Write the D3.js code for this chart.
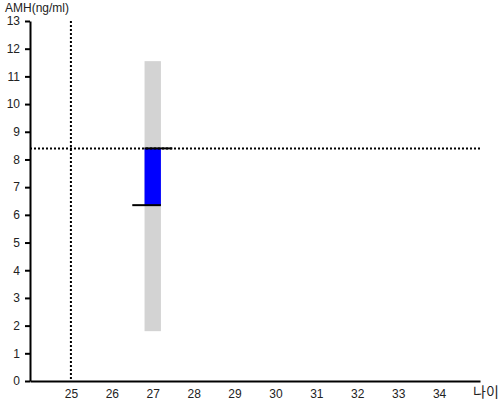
<!DOCTYPE html>
<html>
<head>
<meta charset="utf-8">
<script src="https://cdn.jsdelivr.net/npm/d3@7"></script>
<style>
  body { margin: 0; background: white; }
  text { font-family: Arial, "Liberation Sans", sans-serif; }
</style>
</head>
<body>
<div id="chart"></div>
<script>
// data
var xTicks = [25, 26, 27, 28, 29, 30, 31, 32, 33, 34];
var yTicks = [0, 1, 2, 3, 4, 5, 6, 7, 8, 9, 10, 11, 12, 13];
var ages = [27];
var rangeLow = [1.8];
var rangeHigh = [11.55];
var expectedAmh = [6.35];
var measuredAmh = [8.4];
var refAge = 25;
var refAmh = 8.4;

var width = 500, height = 400;
var plotLeft = 30, plotRight = 480, plotTop = 21, plotBottom = 381;

var svg = d3.select('#chart').append('svg')
  .attr('width', width)
  .attr('height', height);

var x = d3.scaleLinear().domain([24, 35]).range([plotLeft, plotRight]);
var y = d3.scaleLinear().domain([0, 13]).range([plotBottom, plotTop]);

// grey range bar
svg.selectAll('rect.range')
  .data(ages)
  .enter()
  .append('rect')
    .attr('class', 'range')
    .attr('x', function(d) { return x(d - 0.2); })
    .attr('width', function(d) { return x(d + 0.2) - x(d - 0.2); })
    .attr('y', function(d, i) { return y(rangeHigh[i]); })
    .attr('height', function(d, i) { return y(rangeLow[i]) - y(rangeHigh[i]); })
    .style('fill', '#d3d3d3');

// blue bar between expected and measured
svg.selectAll('rect.diff')
  .data(ages)
  .enter()
  .append('rect')
    .attr('class', 'diff')
    .attr('x', function(d) { return x(d - 0.2); })
    .attr('width', function(d) { return x(d + 0.2) - x(d - 0.2); })
    .attr('y', function(d, i) { return y(Math.max(measuredAmh[i], expectedAmh[i])); })
    .attr('height', function(d, i) { return Math.abs(y(expectedAmh[i]) - y(measuredAmh[i])); })
    .style('fill', '#0000ff');

// reference dotted lines
svg.append('line')
  .attr('x1', x(refAge)).attr('x2', x(refAge))
  .attr('y1', y(13)).attr('y2', plotBottom)
  .style('stroke', 'black').style('stroke-width', 2)
  .style('stroke-dasharray', '2,2');

svg.append('line')
  .attr('x1', plotLeft).attr('x2', plotRight)
  .attr('y1', y(refAmh)).attr('y2', y(refAmh))
  .style('stroke', 'black').style('stroke-width', 2)
  .style('stroke-dasharray', '2,2');

// black markers
svg.selectAll('line.measured')
  .data(ages)
  .enter()
  .append('line')
    .attr('class', 'measured')
    .attr('x1', function(d) { return x(d - 0.2); })
    .attr('x2', function(d) { return x(d + 0.48); })
    .attr('y1', function(d, i) { return y(measuredAmh[i]); })
    .attr('y2', function(d, i) { return y(measuredAmh[i]); })
    .style('stroke', 'black').style('stroke-width', 2);

svg.selectAll('line.expected')
  .data(ages)
  .enter()
  .append('line')
    .attr('class', 'expected')
    .attr('x1', function(d) { return x(d - 0.5); })
    .attr('x2', function(d) { return x(d + 0.2); })
    .attr('y1', function(d, i) { return y(expectedAmh[i]); })
    .attr('y2', function(d, i) { return y(expectedAmh[i]); })
    .style('stroke', 'black').style('stroke-width', 2);

// y axis
var yAxis = svg.append('g')
  .attr('transform', 'translate(' + plotLeft + ',0)')
  .call(d3.axisLeft(y).tickValues(yTicks).tickSize(5).tickSizeOuter(0));
yAxis.select('.domain').style('stroke', 'black').style('stroke-width', 2);
yAxis.selectAll('.tick line').style('stroke', 'black').style('stroke-width', 2);
yAxis.selectAll('.tick text')
  .attr('x', -10)
  .style('font-size', '12px')
  .style('font-family', 'Arial, "Liberation Sans", sans-serif')
  .style('fill', '#222');

// x axis
var xAxis = svg.append('g')
  .attr('transform', 'translate(0,' + plotBottom + ')')
  .call(d3.axisBottom(x).tickValues(xTicks).tickSize(0).tickSizeOuter(0));
xAxis.select('.domain').style('stroke', 'black').style('stroke-width', 2);
xAxis.selectAll('.tick text')
  .attr('y', 8)
  .style('font-size', '12px')
  .style('font-family', 'Arial, "Liberation Sans", sans-serif')
  .style('fill', '#222');

// axis titles
svg.append('text')
  .attr('x', 5)
  .attr('y', 12)
  .style('font-size', '12px')
  .style('fill', '#222')
  .text('AMH(ng/ml)');

svg.append('text')
  .attr('x', 473)
  .attr('y', 397)
  .style('font-size', '14px')
  .style('font-family', '"Noto Sans CJK KR", sans-serif')
  .style('fill', '#222')
  .text('나이');
</script>
</body>
</html>
